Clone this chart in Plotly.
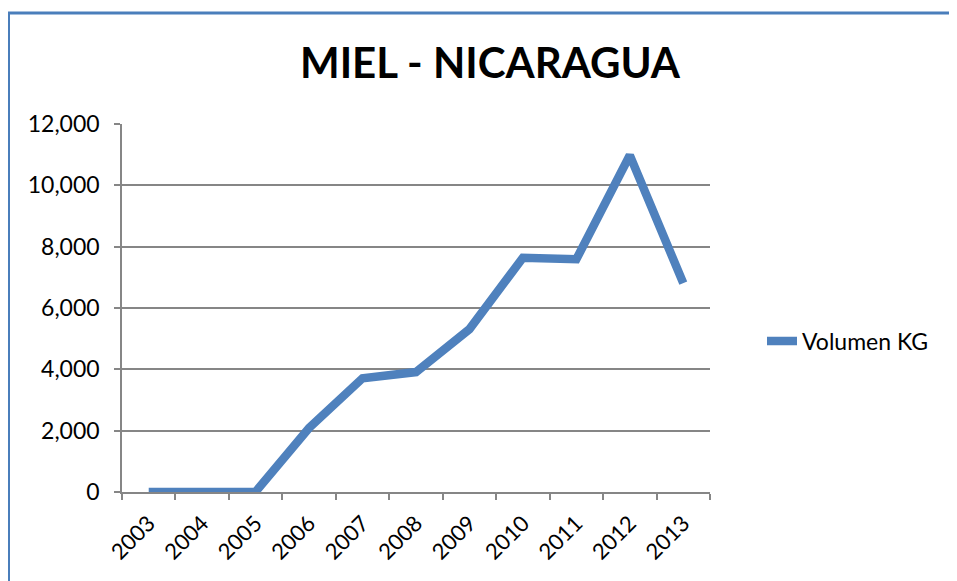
import plotly.graph_objects as go

years = ["2003", "2004", "2005", "2006", "2007", "2008", "2009", "2010", "2011", "2012", "2013"]
volumen_kg = [0, 0, 10, 2090, 3710, 3910, 5310, 7640, 7590, 10980, 6810]
series_name = "Volumen KG"
title_text = "MIEL - NICARAGUA"

# page is drawn with an 8px body margin; work in reference pixel coords
OFF = 8
W, H = 957, 581
ref_left, ref_right, ref_top, ref_bottom = 122, 710, 124, 492
L = ref_left - OFF
T = ref_top - OFF
R = W - (ref_right - OFF)
B = H - (ref_bottom - OFF)
pw, ph = W - L - R, H - T - B

def px_x(x):
    return (x - OFF - L) / pw

def px_y(y):
    return (H - B - (y - OFF)) / ph

blue = "#4F81BD"
fig = go.Figure()
fig.add_trace(go.Scatter(
    x=years, y=volumen_kg, mode="lines", name=series_name,
    line=dict(color=blue, width=8.5, shape="linear"),
))

fig.update_layout(
    width=W, height=H,
    margin=dict(l=L, r=R, t=T, b=B),
    paper_bgcolor="white", plot_bgcolor="white",
    font=dict(family="Lato, Open Sans, sans-serif", color="black", size=22),
    title=dict(text="<b>" + title_text + "</b>", x=px_x(490), xref="paper", xanchor="center",
               y=1 - (63 - OFF) / H, yanchor="middle", font=dict(size=42, color="black")),
    showlegend=True,
    legend=dict(x=px_x(762), y=px_y(341), xanchor="left", yanchor="middle",
                font=dict(size=23, color="black"), bgcolor="rgba(0,0,0,0)"),
    xaxis=dict(type="category", range=[-0.5, 10.5], tickangle=-45,
               showline=True, linecolor="#868686", linewidth=1.5,
               ticks="outside", tickson="boundaries", ticklen=6, tickcolor="#868686", tickwidth=1.5,
               ticklabelstandoff=8,
               showgrid=False, tickfont=dict(size=22)),
    yaxis=dict(range=[0, 12000], dtick=2000, tickformat=",",
               showline=True, linecolor="#868686", linewidth=1.5,
               ticks="outside", ticklen=6, tickcolor="#868686", tickwidth=1.5,
               ticklabelstandoff=10,
               showgrid=True, gridcolor="#868686", gridwidth=1.5, zeroline=False,
               tickfont=dict(size=23)),
    shapes=[
        dict(type="line", xref="paper", yref="paper", x0=px_x(8.5), x1=px_x(8.5), y0=px_y(12), y1=px_y(620),
             line=dict(color="#4A7EBB", width=3)),
        dict(type="line", xref="paper", yref="paper", x0=px_x(7), x1=px_x(980), y0=px_y(13), y1=px_y(13),
             line=dict(color="#4A7EBB", width=3)),
    ],
)

fig.write_html("out.html")
